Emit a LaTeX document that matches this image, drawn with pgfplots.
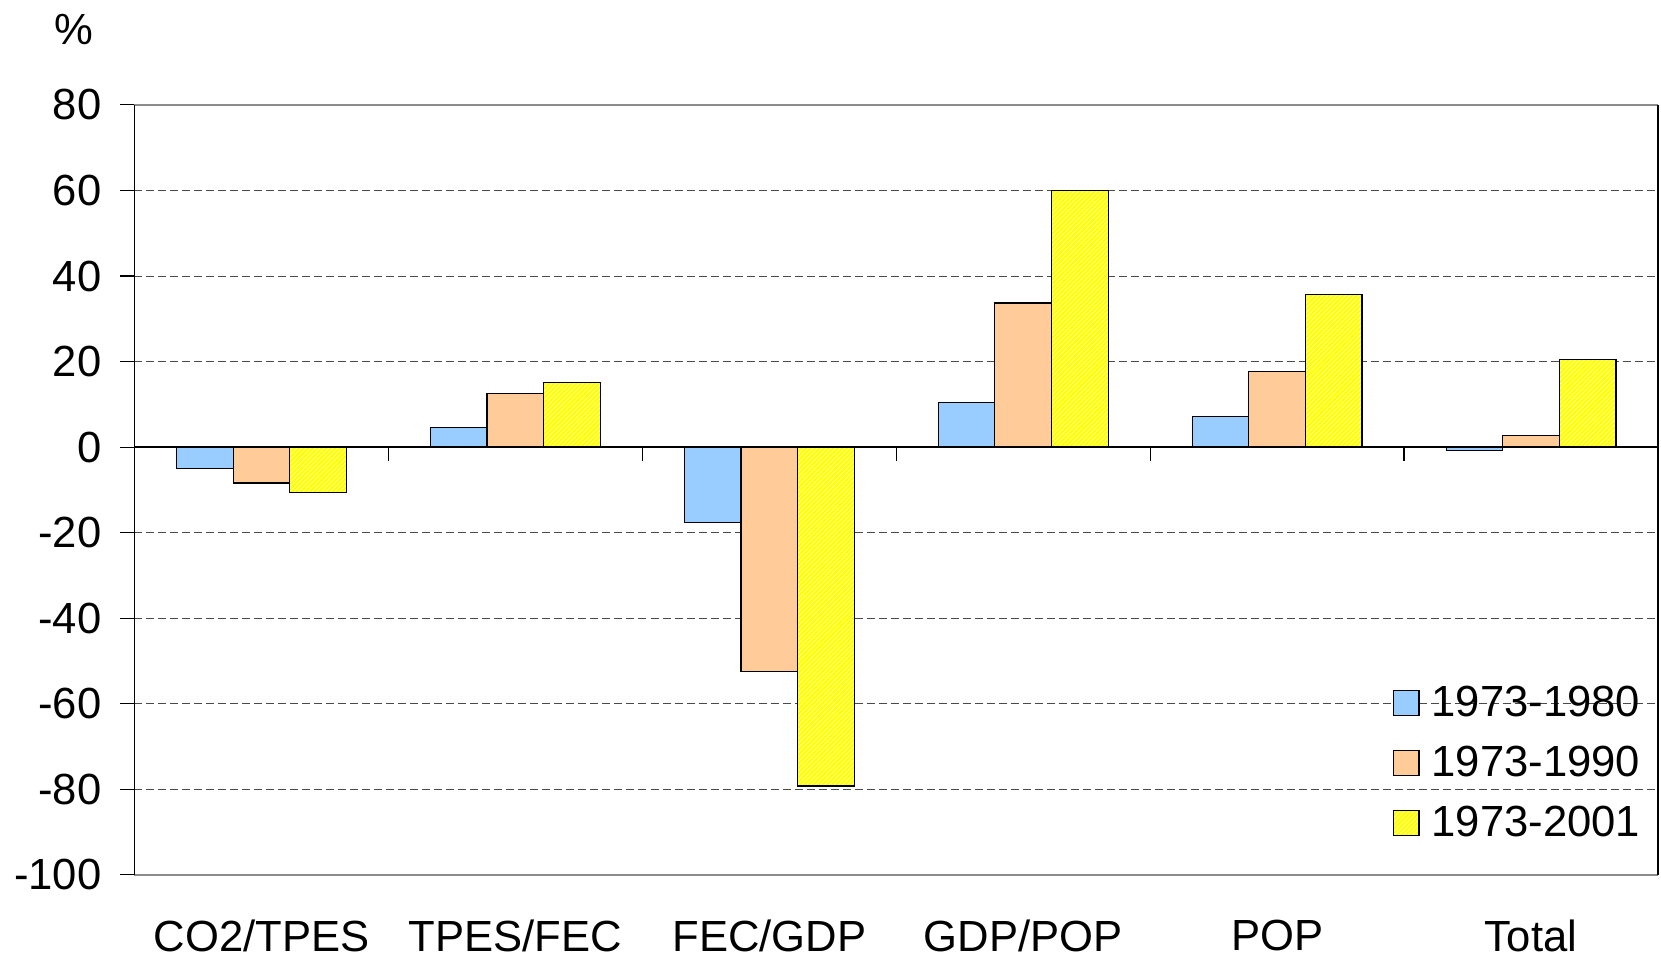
\documentclass[border=0pt]{standalone}
\usepackage{pgfplots}
\pgfplotsset{compat=1.18}
\usetikzlibrary{patterns.meta}
\usepackage{fontspec}
\setmainfont{Liberation Sans}

\definecolor{barblue}{HTML}{99CCFF}
\definecolor{barorange}{HTML}{FFCC99}
\definecolor{baryellow}{HTML}{FFFF00}
\definecolor{boxgray}{HTML}{8C8C8C}
\definecolor{gridgray}{HTML}{4A4A4A}

\begin{document}
\begin{tikzpicture}
\useasboundingbox (-67.25pt,-41.5pt) rectangle (763.25pt,437.45pt);
\begin{axis}[
  scale only axis,
  width=761.75pt, height=385pt,
  xmin=-0.5, xmax=5.5,
  ymin=-100, ymax=80,
  ytick={-100,-80,...,80},
  ytick pos=left,
  xtick={0,1,2,3,4,5},
  xticklabels={CO2/TPES,TPES/FEC,FEC/GDP,GDP/POP,POP,Total},
  x tick style={draw=none},
  xticklabel style={yshift=-12pt},
  y tick style={black, line width=0.6pt},
  tick align=outside,
  major tick length=7pt,
  yticklabel style={xshift=-6pt},
  axis line style={boxgray, line width=0.9pt},
  separate axis lines,
  every outer y axis line/.append style={black},
  ymajorgrids,
  grid style={gridgray, dash pattern=on 4pt off 2pt, line width=0.5pt},
  ybar=0pt,
  bar width=0.223,
  /pgf/number format/assume math mode=true,
  ticklabel style={font=\fontsize{21.8pt}{26pt}\selectfont},
  ylabel={\%},
  ylabel style={rotate=-90, at={(axis description cs:-0.0395,1.0975)}, anchor=center, font=\fontsize{21.8pt}{26pt}\selectfont},
  legend style={draw=none, fill=none, at={(axis cs:4.432,-54.0)}, anchor=north west,
    font=\fontsize{21.8pt}{26pt}\selectfont, row sep=9.2pt,
    /tikz/every odd column/.append style={column sep=4pt}},
  legend cell align=left,
  legend image code/.code={\draw[#1] (0pt,-6.3pt) rectangle (12.6pt,6.3pt);},
]
\addplot[draw=black, line width=0.6pt, fill=barblue] coordinates
  {(0,-4.95) (1,4.5) (2,-17.6) (3,10.4) (4,7.2) (5,-0.8)};
\addplot[draw=black, line width=0.6pt, fill=barorange] coordinates
  {(0,-8.4) (1,12.6) (2,-52.5) (3,33.7) (4,17.6) (5,2.7)};
\addplot[draw=black, line width=0.6pt, fill=baryellow,
  postaction={pattern={Lines[angle=45,distance=1.6pt,line width=0.35pt]}, pattern color=white!70!baryellow}]
  coordinates
  {(0,-10.6) (1,15.1) (2,-79.2) (3,59.9) (4,35.6) (5,20.5)};
\legend{1973-1980,1973-1990,1973-2001}
% zero line with category separators
\draw[black, line width=0.7pt] (axis cs:-0.5,0) -- (axis cs:5.5,0);
\pgfplotsinvokeforeach{0.5,1.5,2.5,3.5,4.5}{
  \draw[black, line width=0.6pt] (axis cs:#1,0) -- ([yshift=-7pt]axis cs:#1,0);
}
\end{axis}
\end{tikzpicture}
\end{document}
